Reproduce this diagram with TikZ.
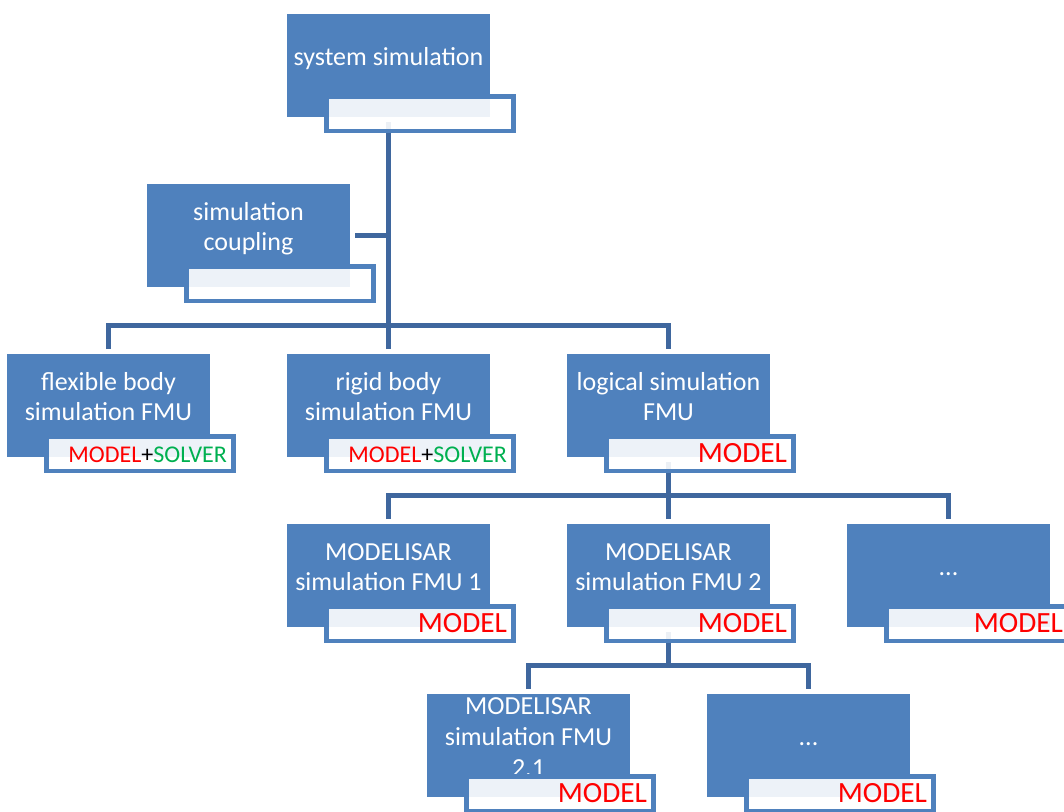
\documentclass[tikz,border=0pt]{standalone}
\usepackage{fontspec}
\setmainfont{Carlito}
\usetikzlibrary{calc,backgrounds}

\definecolor{boxblue}{HTML}{4F81BD}
\definecolor{linkblue}{HTML}{3F679E}
\definecolor{modelred}{HTML}{FF0000}
\definecolor{solvergreen}{HTML}{00B050}

% struts that make the middle of the first and last baselines sit on the box centre
\newcommand\firstln{\rule{0pt}{15pt}}
\newcommand\lastln{\rule[-15pt]{0pt}{15pt}}

\tikzset{
  mainbox/.style={rectangle, fill=boxblue, inner sep=0pt, outer sep=0pt,
    minimum width=152.25pt, minimum height=77.25pt, text=white, align=center,
    font=\fontsize{19.5}{23}\selectfont},
  tagbox/.style={rectangle, fill=white, fill opacity=0.9, draw=boxblue,
    line width=3.4pt, inner sep=0pt, outer sep=0pt,
    minimum width=140.6pt, minimum height=25.9pt},
  taglabel/.style={anchor=base east, inner sep=0pt, outer sep=0pt,
    font=\fontsize{22}{26}\selectfont},
  link/.style={draw=linkblue, line width=3.75pt, line join=miter},
}

% one hierarchy element: main box, tag box and tag text
% #1 name, #2/#3 top-left corner (px), #4 box text, #5 tag text
\newcommand\fmubox[5]{%
  \node[mainbox] (#1) at (#2+101.5,#3+51.5) {\firstln #4\lastln};
  \node[tagbox] (#1-tag) at (#2+133,#3+99.5) {};
  \node[taglabel] (#1-lbl) at (#2+220,#3+108) {#5};
}
\newcommand\modeltag{\textcolor{modelred}{MODEL}}
\newcommand\modelsolvertag{{\fontsize{18}{22}\selectfont
  \textcolor{modelred}{MODEL}+\textcolor{solvergreen}{SOLVER}}}

\begin{document}
\begin{tikzpicture}[x=0.75pt,y=-0.75pt]
  \useasboundingbox (0,0) rectangle (1064,811);
  \clip (0,0) rectangle (1064,811);

  \fmubox{sys}{287}{14}{system simulation}{}
  \fmubox{coup}{147}{184}{simulation\\coupling}{}
  \fmubox{flex}{7}{354}{flexible body\\simulation FMU}{\modelsolvertag}
  \fmubox{rigid}{287}{354}{rigid body\\simulation FMU}{\modelsolvertag}
  \fmubox{logic}{567}{354}{logical simulation\\FMU}{\modeltag}
  \fmubox{msa}{287}{524}{MODELISAR\\simulation FMU 1}{\modeltag}
  \fmubox{msb}{567}{524}{MODELISAR\\simulation FMU 2}{\modeltag}
  \fmubox{dotsa}{847}{524}{...}{}
  \node[taglabel] (dotsa-lbl) at (1063,632) {\modeltag};
  \fmubox{msba}{427}{694}{MODELISAR\\simulation FMU\\2.1}{\modeltag}
  \fmubox{dotsb}{707}{694}{...}{\modeltag}

  % levels of the horizontal bars
  \coordinate (bar1) at (0,325.5);
  \coordinate (bar2) at (0,495.5);
  \coordinate (bar3) at (0,665.5);

  \begin{scope}[on background layer]
    \draw[link] ($(sys.south)+(0,5)$) -- (sys.south |- bar1);
    \draw[link] ($(coup.east)+(5,0)$) -- (coup.east -| sys.south);
    \draw[link] ($(flex.north)+(0,-5)$) -- (flex.north |- bar1)
      -- (logic.north |- bar1) -- ($(logic.north)+(0,-5)$);
    \draw[link] ($(rigid.north)+(0,-5)$) -- (rigid.north |- bar1);

    \draw[link] ($(logic.south)+(0,5)$) -- (logic.south |- bar2);
    \draw[link] ($(msa.north)+(0,-5)$) -- (msa.north |- bar2)
      -- (dotsa.north |- bar2) -- ($(dotsa.north)+(0,-5)$);
    \draw[link] ($(msb.north)+(0,-5)$) -- (msb.north |- bar2);

    \draw[link] ($(msb.south)+(0,5)$) -- (msb.south |- bar3);
    \draw[link] ($(msba.north)+(0,-5)$) -- (msba.north |- bar3)
      -- (dotsb.north |- bar3) -- ($(dotsb.north)+(0,-5)$);
  \end{scope}
\end{tikzpicture}
\end{document}
